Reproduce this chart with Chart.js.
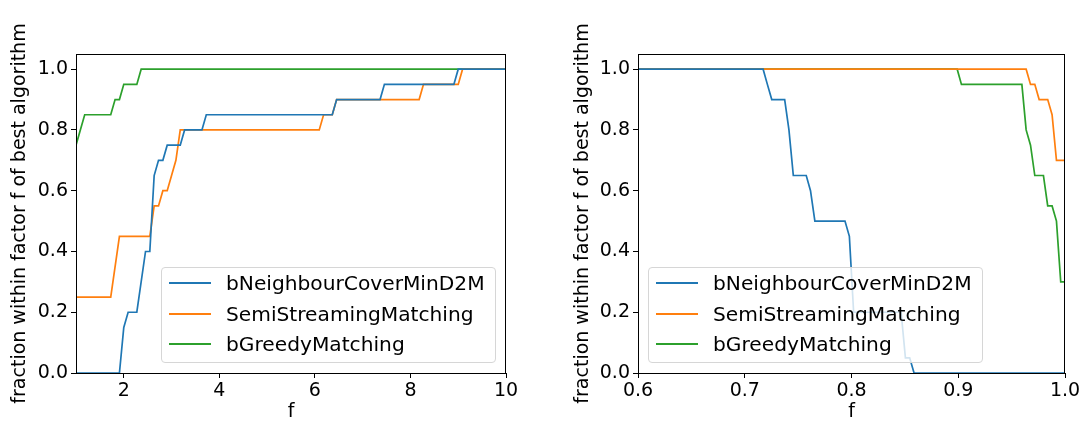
<!DOCTYPE html>
<html>
<head>
<meta charset="utf-8">
<script src="https://cdn.jsdelivr.net/npm/chart.js@4.4.0/dist/chart.umd.min.js"></script>
<style>
    body { margin: 0; background: #fff; }
    #wrap { position: relative; width: 1086px; height: 421px; font-family: "DejaVu Sans", sans-serif; }
    .plot { position: absolute; top: 0; width: 543px; height: 421px; }
    .legend {
        position: absolute; top: 267px; width: 333px; height: 94px;
        border: 1px solid #d6d6d6; border-radius: 4px;
        background: rgba(255, 255, 255, 0.8);
        font-size: 20.2px; color: #000;
    }
    .row { position: absolute; left: 0; height: 30px; width: 100%; }
    .row span.ln { position: absolute; left: 7px; top: 14px; width: 42px; height: 2px; }
    .row span.tx { position: absolute; left: 64px; top: 2px; line-height: 26px; white-space: nowrap; }
</style>
</head>
<body>
<div id="wrap">
    <div class="plot" style="left:0"><canvas id="left" width="543" height="421"></canvas></div>
    <div class="plot" style="left:543px"><canvas id="right" width="543" height="421"></canvas></div>
    <div class="legend" id="legLeft" style="left:161px"></div>
    <div class="legend" id="legRight" style="left:648px"></div>
</div>
<script>
const names = ['bNeighbourCoverMinD2M', 'SemiStreamingMatching', 'bGreedyMatching'];
const colors = ['#1f77b4', '#ff7f0e', '#2ca02c'];

const yTicks = [0, 0.2, 0.4, 0.6, 0.8, 1.0];
const leftXTicks = [2, 4, 6, 8, 10];
const rightXTicks = [0.6, 0.7, 0.8, 0.9, 1.0];

// left panel: breakpoints (f, fraction)
const leftNeighF = [1, 1.909, 2.0, 2.091, 2.273, 2.455, 2.545, 2.636, 2.727, 2.818, 2.909, 3.091, 3.182, 3.273, 3.636, 3.727, 6.364, 6.455, 7.364, 7.455, 8.909, 9.0, 10];
const leftNeighV = [0, 0, 0.15, 0.20, 0.20, 0.40, 0.40, 0.65, 0.70, 0.70, 0.75, 0.75, 0.75, 0.80, 0.80, 0.85, 0.85, 0.90, 0.90, 0.95, 0.95, 1.0, 1.0];
const leftSemiF = [1, 1.727, 1.909, 2.545, 2.636, 2.727, 2.818, 2.909, 3.0, 3.091, 3.182, 6.091, 6.182, 6.364, 6.455, 8.182, 8.273, 9.0, 9.091, 10];
const leftSemiV = [0.25, 0.25, 0.45, 0.45, 0.55, 0.55, 0.60, 0.60, 0.65, 0.70, 0.80, 0.80, 0.85, 0.85, 0.90, 0.90, 0.95, 0.95, 1.0, 1.0];
const leftGreedyF = [1, 1.091, 1.182, 1.727, 1.818, 1.909, 2.0, 2.273, 2.364, 10];
const leftGreedyV = [0.75, 0.80, 0.85, 0.85, 0.90, 0.90, 0.95, 0.95, 1.0, 1.0];

// right panel
const rightNeighF = [0.6, 0.7172, 0.7212, 0.7253, 0.7374, 0.7414, 0.7455, 0.7576, 0.7616, 0.7657, 0.7939, 0.798, 0.802, 0.8465, 0.8505, 0.8545, 0.8586, 1.0];
const rightNeighV = [1.0, 1.0, 0.95, 0.90, 0.90, 0.80, 0.65, 0.65, 0.60, 0.50, 0.50, 0.45, 0.20, 0.20, 0.05, 0.05, 0, 0];
const rightSemiF = [0.6, 0.9636, 0.9677, 0.9717, 0.9758, 0.9838, 0.9879, 0.992, 1.0];
const rightSemiV = [1.0, 1.0, 0.95, 0.95, 0.90, 0.90, 0.85, 0.70, 0.70];
const rightGreedyF = [0.6, 0.899, 0.903, 0.9596, 0.9636, 0.9677, 0.9717, 0.9798, 0.9838, 0.9879, 0.992, 0.996, 1.0];
const rightGreedyV = [1.0, 1.0, 0.95, 0.95, 0.80, 0.75, 0.65, 0.65, 0.55, 0.55, 0.50, 0.30, 0.30];

const font = { family: 'DejaVu Sans', size: 19 };

function pts(xs, ys) {
    return xs.map((x, i) => ({ x: x, y: ys[i] }));
}

const frame = {
    id: 'frame',
    afterDraw(chart) {
        const a = chart.chartArea;
        const ctx = chart.ctx;
        ctx.save();
        ctx.strokeStyle = '#000';
        ctx.lineWidth = 1;
        ctx.strokeRect(a.left + 0.5, a.top + 0.5, a.right - a.left - 1, a.bottom - a.top);
        ctx.restore();
    }
};

function drawPanel(id, series, xMin, xMax, xTicks, xDigits, areaLeft, areaRight, titlePad) {
    const ctx = document.getElementById(id).getContext('2d');
    new Chart(ctx, {
        type: 'scatter',
        data: {
            datasets: series.map((s, i) => ({
                label: names[i],
                data: pts(s[0], s[1]),
                showLine: true,
                borderColor: colors[i],
                backgroundColor: colors[i],
                borderWidth: 1.7,
                pointRadius: 0,
                tension: 0
            }))
        },
        options: {
            responsive: false,
            animation: false,
            events: [],
            layout: { padding: { left: 0, right: 543 - areaRight, top: 54, bottom: 0 } },
            plugins: { legend: { display: false }, tooltip: { enabled: false } },
            scales: {
                x: {
                    type: 'linear', min: xMin, max: xMax,
                    afterBuildTicks: s => { s.ticks = xTicks.map(v => ({ value: v })); },
                    afterFit: s => { s.height = 421 - 373; },
                    ticks: { color: '#000', font: font, padding: 2, maxRotation: 0,
                        callback: v => v.toFixed(xDigits) },
                    grid: { display: true, drawOnChartArea: false, tickLength: 5, color: '#000' },
                    border: { display: true, color: '#000' },
                    title: { display: true, text: 'f', color: '#000', font: font, padding: { top: 0, bottom: -2 } }
                },
                y: {
                    type: 'linear', min: 0, max: 1.05,
                    afterBuildTicks: s => { s.ticks = yTicks.map(v => ({ value: v })); },
                    afterFit: s => { s.width = areaLeft; },
                    ticks: { color: '#000', font: font, padding: 3, callback: v => v.toFixed(1) },
                    grid: { display: true, drawOnChartArea: false, tickLength: 5, color: '#000' },
                    border: { display: true, color: '#000' },
                    title: { display: true, text: 'fraction within factor f of best algorithm', color: '#000', font: font, padding: { top: titlePad, bottom: 0 } }
                }
            }
        },
        plugins: [frame]
    });
}

drawPanel('left', [[leftNeighF, leftNeighV], [leftSemiF, leftSemiV], [leftGreedyF, leftGreedyV]],
    1, 10, leftXTicks, 0, 76, 506, 9);
drawPanel('right', [[rightNeighF, rightNeighV], [rightSemiF, rightSemiV], [rightGreedyF, rightGreedyV]],
    0.6, 1.0, rightXTicks, 1, 95, 522, 29);

function buildLegend(id) {
    const el = document.getElementById(id);
    names.forEach((n, i) => {
        const row = document.createElement('div');
        row.className = 'row';
        row.style.top = (i * 30.5) + 'px';
        row.innerHTML = '<span class="ln" style="background:' + colors[i] + '"></span><span class="tx">' + n + '</span>';
        el.appendChild(row);
    });
}
buildLegend('legLeft');
buildLegend('legRight');
</script>
</body>
</html>
